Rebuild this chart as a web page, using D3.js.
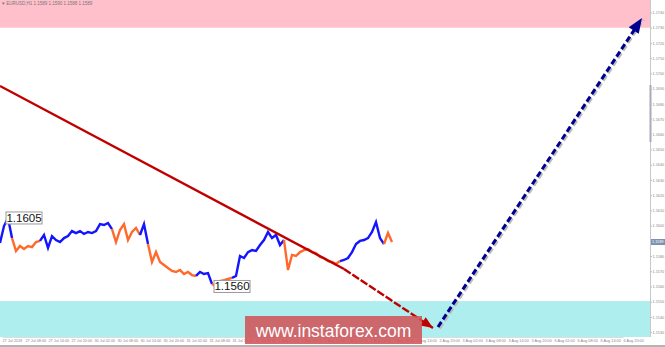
<!DOCTYPE html>
<html><head><meta charset="utf-8">
<script src="https://cdn.jsdelivr.net/npm/d3@7"></script>
<style>html,body{margin:0;padding:0;background:#fff;overflow:hidden}svg{display:block}</style>
</head><body>
<svg id="c" width="665" height="347"></svg>
<script>
// ---- data ----
const closes = [1.15885,1.15997,1.16050,1.15918,1.15833,1.15866,1.15846,1.15866,1.15859,1.15892,
1.15899,1.15938,1.15853,1.15931,1.15905,1.15892,1.15918,1.15931,1.15964,1.15951,
1.15964,1.15945,1.15958,1.15951,1.15964,1.16010,1.16004,1.16017,1.15977,1.15892,
1.15971,1.16010,1.15905,1.15958,1.15984,1.15938,1.16010,1.15879,1.15761,1.15826,
1.15761,1.15741,1.15721,1.15702,1.15695,1.15708,1.15682,1.15695,1.15675,1.15669,
1.15695,1.15682,1.15688,1.15616,1.15600,1.15636,1.15642,1.15649,1.15656,1.15669,
1.15800,1.15787,1.15826,1.15839,1.15833,1.15872,1.15905,1.15958,1.15918,1.15938,
1.15872,1.15905,1.15708,1.15807,1.15800,1.15826,1.15839,1.15846,1.15826,1.15820,
1.15794,1.15787,1.15767,1.15761,1.15748,1.15767,1.15774,1.15787,1.15826,1.15879,
1.15899,1.15905,1.15918,1.15958,1.16023,1.15918,1.15879,1.15951,1.15892];
const waveStarts = [0,3,10,28,35,37,49,53,58,71,85,96];
const waveColors = ["up","down","up","down","up","down","up","down","up","down","up","down"];
const priceLabels = [{i:2, text:"1.1605"},{i:54, text:"1.1560"}];
const redLine = [{i:0, p:1.16917},{i:86, p:1.15715},{i:108.25, p:1.15327}];
const blueArrow = [{i:109.5, p:1.15334},{i:160.5, p:1.17364}];
const pinkZone = [1.17300, 1.17482];
const cyanZone = [1.15268, 1.15504];
const yTicks = ["1.1740","1.1730","1.1720","1.1710","1.1700","1.1690","1.1680","1.1670","1.1660","1.1650","1.1640",
"1.1630","1.1620","1.1610","1.1600","1.1590","1.1580","1.1570","1.1560","1.1550","1.1540","1.1530"];
const xTicks = ["27 Jul 2018","27 Jul 08:00","27 Jul 14:00","27 Jul 20:00","30 Jul 02:00","30 Jul 08:00","30 Jul 14:00",
"30 Jul 20:00","31 Jul 02:00","31 Jul 08:00","31 Jul 14:00","31 Jul 20:00","1 Aug 02:00","1 Aug 08:00","1 Aug 14:00",
"1 Aug 20:00","2 Aug 02:00","2 Aug 08:00","2 Aug 14:00","2 Aug 20:00","3 Aug 02:00","3 Aug 08:00","3 Aug 14:00",
"3 Aug 20:00","6 Aug 02:00","6 Aug 08:00","6 Aug 14:00","6 Aug 20:00"];
const header = "\u25BE EURUSD,H1  1.1589 1.1590 1.1588 1.1589";
const currentPrice = "1.1589";
const currentValue = 1.15892;
const watermark = "www.instaforex.com";

// ---- drawing ----
const W = 650, H = 337;
const FONT = "Liberation Sans, Arial";
const svg = d3.select("#c");
const x = d3.scaleLinear().domain([0, 162.5]).range([0, W]);
const y = d3.scaleLinear().domain([1.15268, 1.17482]).range([H, 0]);
const col = {up:"#1414ff", down:"#ff6a2c"};

// zones
svg.append("rect").attr("x",0).attr("width",W).attr("y",y(pinkZone[1])).attr("height",y(pinkZone[0])-y(pinkZone[1])).attr("fill","#ffc0cb");
svg.append("rect").attr("x",0).attr("width",W).attr("y",y(cyanZone[1])).attr("height",y(cyanZone[0])-y(cyanZone[1])).attr("fill","#afeeee");

// header
svg.append("text").attr("x",2).attr("y",5).attr("font-family",FONT).attr("font-size",4.5).attr("fill","#777").text(header);

// price waves
const line = d3.line().x(d=>x(d.i)).y(d=>y(d.p));
const pts = closes.map((p,i)=>({i,p}));
waveStarts.forEach((s,k)=>{
  const e = k+1<waveStarts.length ? waveStarts[k+1] : closes.length-1;
  svg.append("path").datum(pts.slice(s,e+1)).attr("d",line).attr("fill","none")
    .attr("stroke",col[waveColors[k]]).attr("stroke-width",2.4).attr("stroke-linejoin","miter");
});

// red trend line
const redSolid = redLine.slice(0,2), redDash = redLine.slice(1);
svg.append("path").datum(redSolid).attr("d",line).attr("fill","none").attr("stroke","#c00000").attr("stroke-width",2.4);
svg.append("path").datum(redDash).attr("d",line).attr("fill","none").attr("stroke","#c00000").attr("stroke-width",2.4).attr("stroke-dasharray","8,2");

function arrowHead(p0, p1, len, wid, fill){
  const x0=x(p0.i), y0=y(p0.p), x1=x(p1.i), y1=y(p1.p);
  const a = Math.atan2(y1-y0, x1-x0);
  const bx = x1 - len*Math.cos(a), by = y1 - len*Math.sin(a);
  const nx = -Math.sin(a)*wid/2, ny = Math.cos(a)*wid/2;
  svg.append("path").attr("d",`M${x1},${y1}L${bx+nx},${by+ny}L${bx-nx},${by-ny}Z`).attr("fill",fill);
}
arrowHead(redLine[1], redLine[2], 12, 10, "#c00000");

// blue dashed arrow with faint shadow
svg.append("path").datum(blueArrow).attr("d",line).attr("fill","none").attr("stroke","#bbb").attr("stroke-width",3)
  .attr("stroke-dasharray","6,3").attr("transform","translate(1.5,1.5)");
svg.append("path").datum(blueArrow.map((d,k)=>k===1?{i:d.i-0.6,p:d.p-0.00025}:d)).attr("d",line).attr("fill","none").attr("stroke","#000090").attr("stroke-width",3)
  .attr("stroke-dasharray","6,3");
arrowHead(blueArrow[0], blueArrow[1], 15, 12, "#000090");

// price labels
priceLabels.forEach(l=>{
  const bx = x(l.i)-2, cy = y(closes[l.i]);
  svg.append("rect").attr("x",bx).attr("y",cy-6).attr("width",36).attr("height",12)
    .attr("fill","#fff").attr("stroke","#999").attr("stroke-width",1);
  svg.append("text").attr("x",bx+18).attr("y",cy+4).attr("text-anchor","middle")
    .attr("font-family",FONT).attr("font-size",11.5).attr("fill","#111").text(l.text);
});

// right axis
svg.append("line").attr("x1",W+0.5).attr("x2",W+0.5).attr("y1",0).attr("y2",H).attr("stroke","#c8c8c8");
svg.append("rect").attr("x",W-0.5).attr("y",85).attr("width",2).attr("height",57).attr("fill","#aab");
const yAxis = d3.axisRight(y).tickValues(yTicks.map(Number)).tickFormat((d,i)=>yTicks[i]).tickSize(1.5).tickPadding(0.5);
const ya = svg.append("g").attr("transform",`translate(${W+0.5},0)`).call(yAxis);
ya.select(".domain").remove();
ya.selectAll("line").attr("stroke","#bbb");
ya.selectAll("text").attr("font-family",FONT).attr("font-size",3.8).attr("fill","#888");
// current price marker
svg.append("rect").attr("x",W+1).attr("y",y(currentValue)-3).attr("width",14).attr("height",6).attr("fill","#8090b0");
svg.append("text").attr("x",W+2).attr("y",y(currentValue)+1.4).attr("font-family",FONT).attr("font-size",3.8).attr("fill","#fff").text(currentPrice);

// bottom axis
const xb = d3.scalePoint().domain(xTicks).range([2, 2+23*(xTicks.length-1)]);
const xa = svg.append("g").attr("transform",`translate(0,${H})`).call(d3.axisBottom(xb).tickSize(0).tickPadding(2));
xa.select(".domain").attr("stroke","#ddd");
xa.selectAll("text").attr("text-anchor","start").attr("font-family",FONT).attr("font-size",3.8).attr("fill","#888");
svg.append("rect").attr("x",0).attr("y",345).attr("width",665).attr("height",2).attr("fill","#b4b4b4");

// watermark
svg.append("rect").attr("x",245).attr("y",316).attr("width",177).attr("height",28).attr("fill","#d0545a").attr("opacity",0.88);
svg.append("text").attr("x",333.5).attr("y",337).attr("text-anchor","middle").attr("font-family",FONT)
  .attr("font-size",17.5).attr("fill","#fff").text(watermark);
</script>
</body></html>
